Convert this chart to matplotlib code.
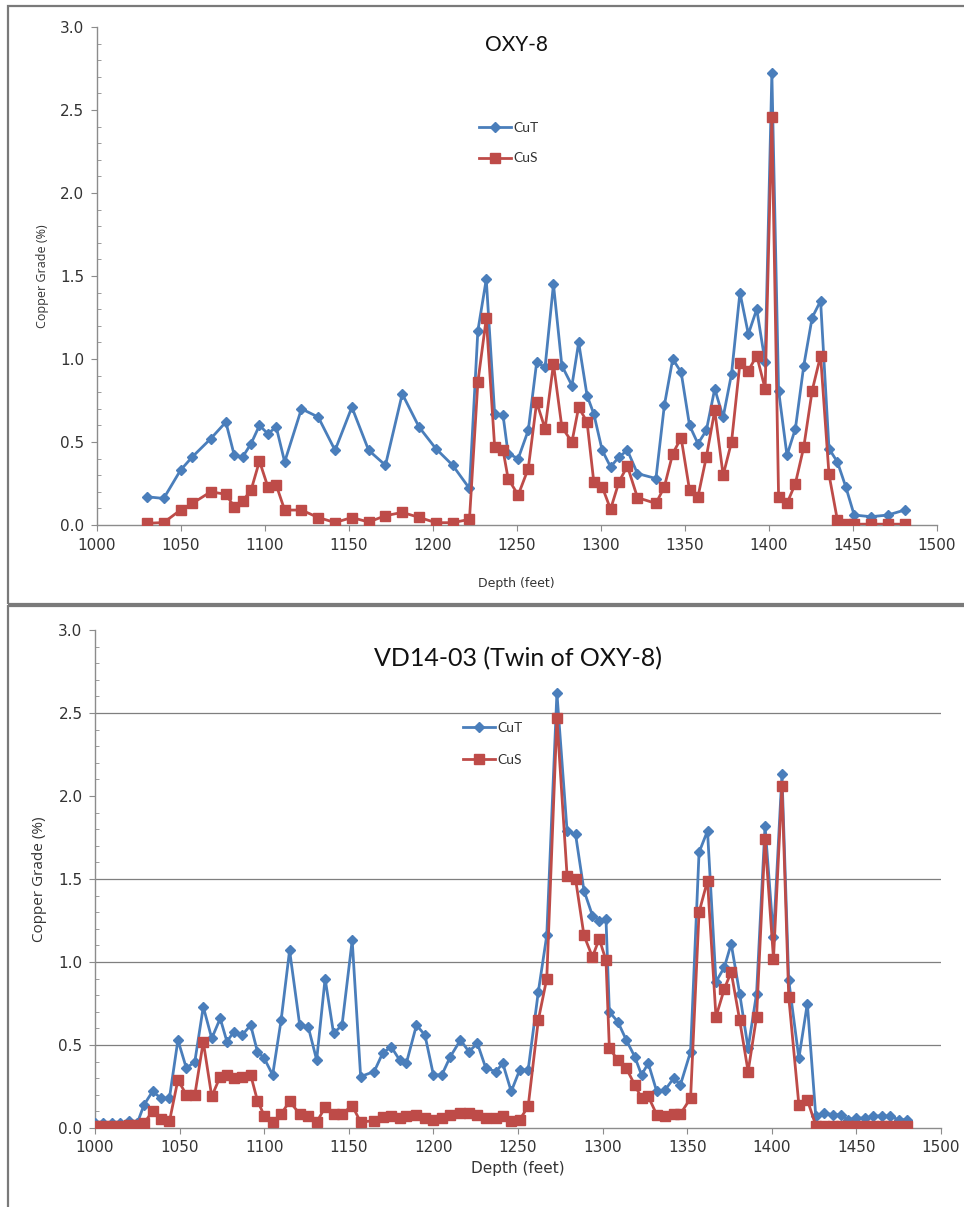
"""Copper grade vs depth for OXY-8 and its twin hole VD14-03."""

import matplotlib
matplotlib.use("Agg")
import matplotlib.pyplot as plt
from matplotlib.patches import Rectangle
from matplotlib.ticker import MultipleLocator, FormatStrFormatter

plt.rcParams["font.family"] = ["Liberation Sans Narrow", "DejaVu Sans"]

BLUE = "#4A7EBB"
RED = "#BE4B48"
AXIS_GREY = "#8C8C8C"

# --- OXY-8 (top panel) ---
oxy_depth = [
    1030, 1040, 1050, 1057, 1068, 1077, 1082, 1087, 1092, 1097,
    1102, 1107, 1112, 1122, 1132, 1142, 1152, 1162, 1172, 1182,
    1192, 1202, 1212, 1222, 1227, 1232, 1237, 1242, 1245, 1251,
    1257, 1262, 1267, 1272, 1277, 1283, 1287, 1292, 1296, 1301,
    1306, 1311, 1316, 1322, 1333, 1338, 1343, 1348, 1353, 1358,
    1363, 1368, 1373, 1378, 1383, 1388, 1393, 1398, 1402, 1406,
    1411, 1416, 1421, 1426, 1431, 1436, 1441, 1446, 1451, 1461,
    1471, 1481,
]
oxy_cut = [
    0.17, 0.16, 0.33, 0.41, 0.52, 0.62, 0.42, 0.41, 0.49, 0.60,
    0.55, 0.59, 0.38, 0.70, 0.65, 0.45, 0.71, 0.45, 0.36, 0.79,
    0.59, 0.46, 0.36, 0.22, 1.17, 1.48, 0.67, 0.66, 0.43, 0.40,
    0.57, 0.98, 0.95, 1.45, 0.96, 0.84, 1.10, 0.78, 0.67, 0.45,
    0.35, 0.41, 0.45, 0.31, 0.28, 0.72, 1.00, 0.92, 0.60, 0.49,
    0.57, 0.82, 0.65, 0.91, 1.40, 1.15, 1.30, 0.98, 2.72, 0.81,
    0.42, 0.58, 0.96, 1.25, 1.35, 0.46, 0.38, 0.23, 0.06, 0.05,
    0.06, 0.09,
]
oxy_cus = [
    0.01, 0.015, 0.09, 0.13, 0.20, 0.185, 0.11, 0.145, 0.21, 0.385,
    0.23, 0.24, 0.09, 0.09, 0.045, 0.015, 0.045, 0.018, 0.056, 0.076,
    0.046, 0.014, 0.014, 0.034, 0.86, 1.245, 0.47, 0.45, 0.28, 0.18,
    0.34, 0.74, 0.58, 0.97, 0.59, 0.50, 0.71, 0.62, 0.26, 0.23,
    0.095, 0.26, 0.355, 0.165, 0.13, 0.23, 0.43, 0.525, 0.21, 0.17,
    0.41, 0.69, 0.30, 0.50, 0.975, 0.93, 1.02, 0.82, 2.46, 0.17,
    0.13, 0.25, 0.47, 0.81, 1.02, 0.305, 0.03, 0.005, 0.005, 0.005,
    0.005, 0.005,
]

# --- VD14-03 (bottom panel) ---
vd_depth = [
    1000, 1005, 1010, 1015, 1020, 1025, 1029, 1034, 1039, 1044,
    1049, 1054, 1059, 1064, 1069, 1074, 1078, 1082, 1087, 1092,
    1096, 1100, 1105, 1110, 1115, 1121, 1126, 1131, 1136, 1141,
    1146, 1152, 1157, 1165, 1170, 1175, 1180, 1184, 1190, 1195,
    1200, 1205, 1210, 1216, 1221, 1226, 1231, 1237, 1241, 1246,
    1251, 1256, 1262, 1267, 1273, 1279, 1284, 1289, 1294, 1298,
    1302, 1304, 1309, 1314, 1319, 1323, 1327, 1332, 1337, 1342,
    1346, 1352, 1357, 1362, 1367, 1372, 1376, 1381, 1386, 1391,
    1396, 1401, 1406, 1410, 1416, 1421, 1426, 1431, 1436, 1441,
    1445, 1450, 1455, 1460, 1465, 1470, 1475, 1480,
]
vd_cut = [
    0.03, 0.03, 0.03, 0.03, 0.04, 0.03, 0.14, 0.22, 0.18, 0.18,
    0.53, 0.36, 0.40, 0.73, 0.54, 0.66, 0.52, 0.58, 0.56, 0.62,
    0.46, 0.42, 0.32, 0.65, 1.07, 0.62, 0.61, 0.41, 0.90, 0.57,
    0.62, 1.13, 0.31, 0.34, 0.45, 0.49, 0.41, 0.39, 0.62, 0.56,
    0.32, 0.32, 0.43, 0.53, 0.46, 0.51, 0.36, 0.34, 0.39, 0.22,
    0.35, 0.35, 0.82, 1.16, 2.62, 1.79, 1.77, 1.43, 1.28, 1.25,
    1.26, 0.70, 0.64, 0.53, 0.43, 0.32, 0.39, 0.22, 0.23, 0.30,
    0.26, 0.46, 1.66, 1.79, 0.88, 0.97, 1.11, 0.81, 0.48, 0.81,
    1.82, 1.15, 2.13, 0.89, 0.42, 0.75, 0.07, 0.09, 0.08, 0.08,
    0.05, 0.06, 0.06, 0.07, 0.075, 0.07, 0.05, 0.05,
]
vd_cus = [
    0.01, 0.01, 0.01, 0.015, 0.02, 0.02, 0.03, 0.10, 0.055, 0.04,
    0.29, 0.20, 0.20, 0.52, 0.19, 0.31, 0.32, 0.30, 0.31, 0.32,
    0.165, 0.075, 0.035, 0.085, 0.16, 0.085, 0.075, 0.035, 0.125, 0.085,
    0.085, 0.135, 0.035, 0.045, 0.065, 0.07, 0.06, 0.07, 0.08, 0.06,
    0.05, 0.06, 0.08, 0.09, 0.09, 0.08, 0.06, 0.06, 0.07, 0.04,
    0.05, 0.13, 0.65, 0.90, 2.47, 1.52, 1.50, 1.16, 1.03, 1.14,
    1.01, 0.48, 0.41, 0.36, 0.26, 0.18, 0.19, 0.08, 0.07, 0.085,
    0.085, 0.18, 1.30, 1.49, 0.67, 0.84, 0.94, 0.65, 0.34, 0.67,
    1.74, 1.02, 2.06, 0.79, 0.14, 0.17, 0.015, 0.015, 0.01, 0.015,
    0.01, 0.015, 0.01, 0.015, 0.01, 0.015, 0.01, 0.01,
]

vd_gridlines = [0.5, 1.0, 1.5, 2.5]

W, H = 964, 1207


def style_axes(ax, grid=None):
    ax.set_xlim(1000, 1500)
    ax.set_ylim(0, 3.0)
    ax.xaxis.set_major_locator(MultipleLocator(50))
    ax.yaxis.set_major_locator(MultipleLocator(0.5))
    ax.yaxis.set_minor_locator(MultipleLocator(0.1))
    ax.yaxis.set_major_formatter(FormatStrFormatter("%.1f"))
    for side in ("top", "right"):
        ax.spines[side].set_visible(False)
    for side in ("left", "bottom"):
        ax.spines[side].set_color(AXIS_GREY)
        ax.spines[side].set_linewidth(1.0)
    ax.tick_params(axis="both", which="major", direction="out", length=4,
                   color=AXIS_GREY, labelsize=11, labelcolor="#333333", pad=5)
    ax.tick_params(axis="y", which="minor", direction="in", length=3, color=AXIS_GREY)
    ax.tick_params(axis="x", which="minor", length=0)
    if grid:
        for g in grid:
            ax.axhline(g, color="#7F7F7F", lw=0.9, zorder=0)


def plot_panel(ax, depth, cut, cus, title, title_size, title_y, legend_anchor,
               spacing, label_size, xpad):
    ax.plot(depth, cut, color=BLUE, lw=2.0, marker="D", markersize=5.5,
            label="CuT", zorder=3)
    ax.plot(depth, cus, color=RED, lw=2.0, marker="s", markersize=6.5,
            label="CuS", zorder=4)
    ax.set_title(title, fontsize=title_size, family=["Lato", "DejaVu Sans"],
                 y=title_y, color="#111111")
    ax.set_xlabel("Depth (feet)", fontsize=label_size, color="#333333", labelpad=xpad)
    ax.set_ylabel("Copper Grade (%)", fontsize=label_size, color="#333333",
                  family=["Open Sans", "DejaVu Sans"], labelpad=8)
    leg = ax.legend(loc="upper left", bbox_to_anchor=legend_anchor, frameon=False,
                    handlelength=2.3, handletextpad=0.2, labelspacing=spacing,
                    prop={"family": ["Lato", "DejaVu Sans"], "size": 10})
    for t in leg.get_texts():
        t.set_color("#333333")


fig = plt.figure(figsize=(W / 100, H / 100), dpi=100)

# panel frames
fig.patches.append(Rectangle((8 / W, 1 - 604 / H), (W + 10) / W, 598 / H,
                             transform=fig.transFigure, fill=False,
                             edgecolor="#7A7A7A", lw=1.6))
fig.patches.append(Rectangle((8 / W, -0.01), (W + 10) / W, 1 - 606 / H + 0.01,
                             transform=fig.transFigure, fill=False,
                             edgecolor="#7A7A7A", lw=1.6))

ax_top = fig.add_axes([96.5 / W, 1 - 525 / H, 840 / W, 498 / H])
style_axes(ax_top)
plot_panel(ax_top, oxy_depth, oxy_cut, oxy_cus, "OXY-8", 15, 0.935,
           (0.44, 0.835), 1.35, 9, 18)

ax_bot = fig.add_axes([95 / W, 1 - 1128 / H, 846 / W, 498 / H])
style_axes(ax_bot, grid=vd_gridlines)
plot_panel(ax_bot, vd_depth, vd_cut, vd_cus, "VD14-03 (Twin of OXY-8)", 18, 0.91,
           (0.42, 0.84), 1.45, 11, 4)

fig.savefig("out.png", dpi=100, facecolor="white")
